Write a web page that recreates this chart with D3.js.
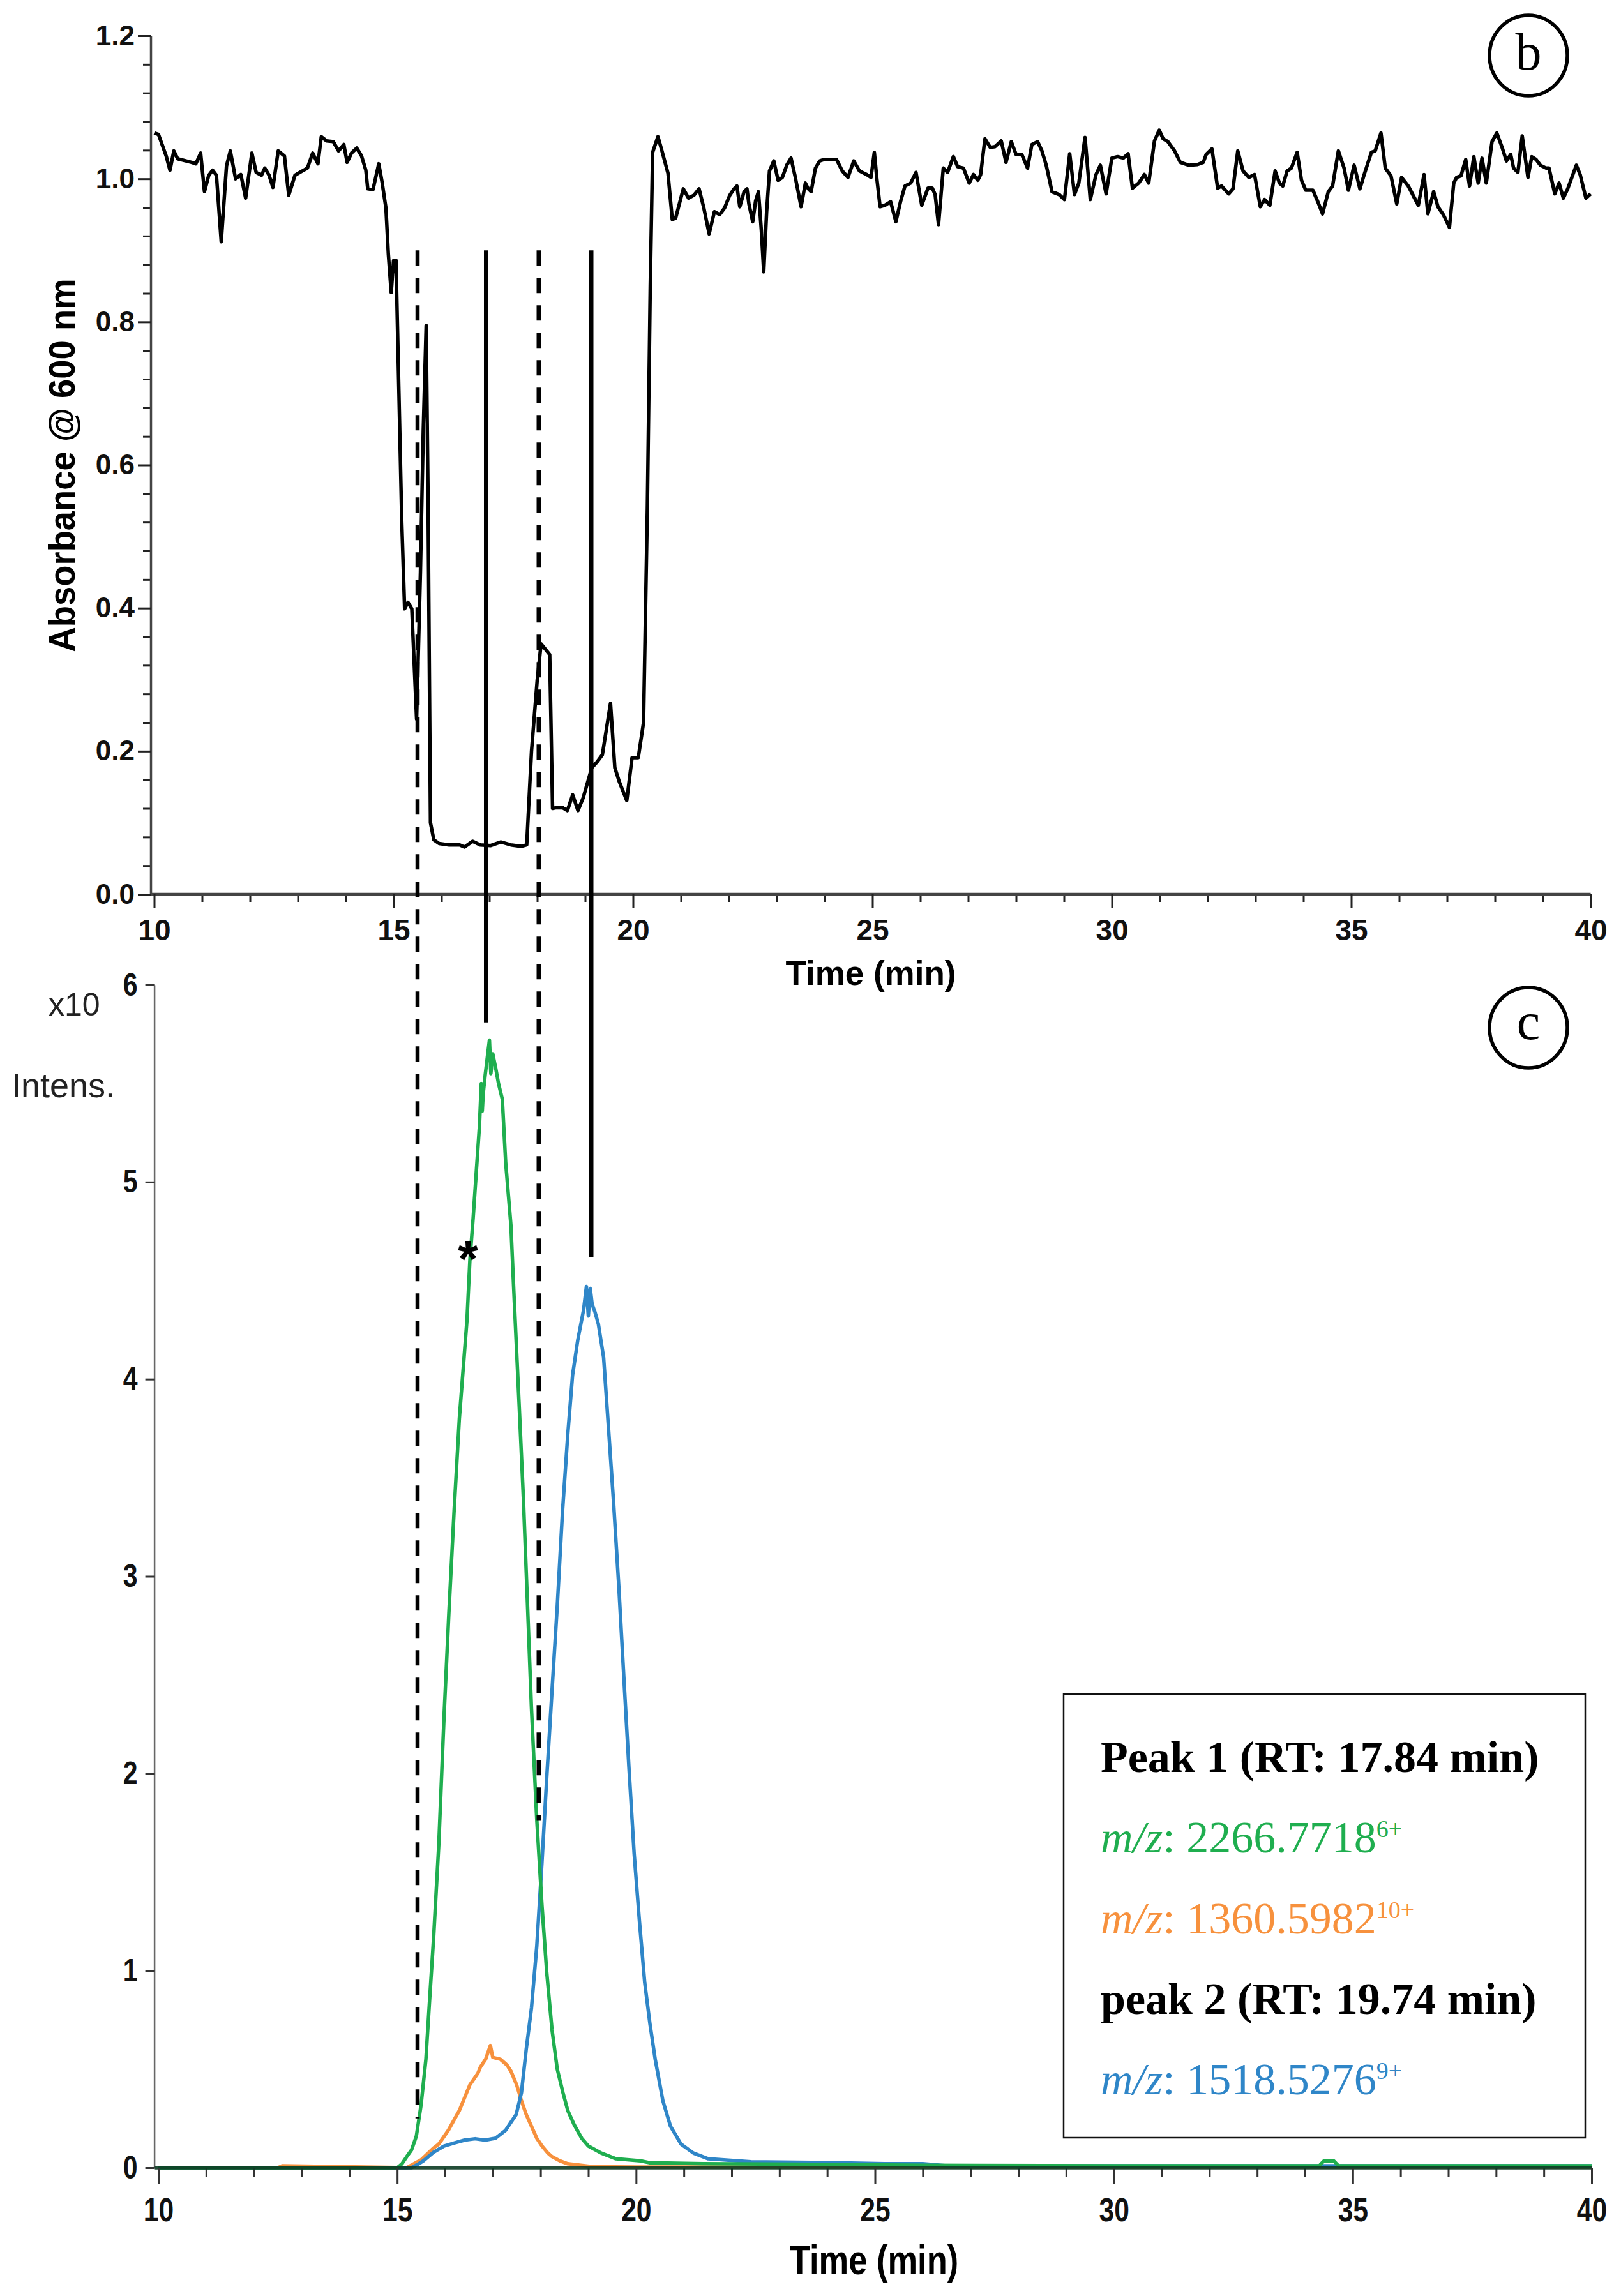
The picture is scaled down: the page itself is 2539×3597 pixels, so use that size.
<!DOCTYPE html>
<html lang="en">
<head>
<meta charset="UTF-8">
<title>Absorbance and ion chromatograms</title>
<script src="https://cdn.jsdelivr.net/npm/d3@7/dist/d3.min.js"></script>
<style>
  body { margin: 0; background: #fff; }
  svg { display: block; }
</style>
</head>
<body>
<div id="chart"></div>
<script>
// panel b: absorbance @ 600 nm vs time (min)
var absTime = [10.00,10.09,10.25,10.33,10.41,10.49,10.78,10.87,10.97,11.05,11.14,11.22,11.30,11.40,11.51,11.59,11.70,11.81,11.91,12.04,
  12.13,12.24,12.31,12.40,12.48,12.59,12.72,12.81,12.94,13.04,13.20,13.31,13.42,13.49,13.60,13.74,13.85,13.96,14.03,14.12,
  14.23,14.33,14.42,14.46,14.57,14.69,14.76,14.84,14.89,14.95,15.00,15.05,15.11,15.17,15.23,15.30,15.38,15.48,15.56,15.62,
  15.68,15.72,15.77,15.84,15.95,16.16,16.38,16.48,16.65,16.81,17.02,17.24,17.45,17.67,17.78,17.88,18.00,18.08,18.14,18.26,
  18.32,18.40,18.53,18.63,18.74,18.85,18.96,19.14,19.25,19.36,19.53,19.62,19.71,19.87,19.98,20.11,20.22,20.30,20.36,20.41,
  20.52,20.60,20.73,20.82,20.89,21.05,21.16,21.27,21.38,21.48,21.59,21.70,21.81,21.91,22.02,
  22.11,22.17,22.23,22.32,22.38,22.42,22.50,22.56,22.62,22.68,22.73,22.79,22.85,22.94,23.03,23.12,23.21,23.30,23.39,23.51,
  23.60,23.66,23.72,23.81,23.90,23.99,24.10,24.25,24.37,24.49,24.61,24.73,24.88,24.97,25.04,25.09,25.16,25.26,25.38,25.49,
  25.59,25.68,25.80,25.91,26.03,26.16,26.25,26.31,26.38,26.48,26.57,26.69,26.78,26.90,27.02,27.11,27.20,27.26,27.35,27.46,
  27.56,27.69,27.79,27.90,28.00,28.12,28.24,28.33,28.45,28.54,28.63,28.75,28.90,29.01,29.12,29.22,29.31,29.44,29.55,29.67,
  29.76,29.88,30.00,30.12,30.24,30.34,30.43,30.56,30.68,30.77,30.89,30.99,31.07,31.17,
  31.31,31.43,31.61,31.79,31.91,31.97,32.09,32.21,32.29,32.44,32.53,32.63,32.74,32.86,32.98,33.10,33.19,33.30,33.41,33.50,
  33.57,33.66,33.75,33.87,33.96,34.05,34.20,34.32,34.40,34.52,34.61,34.73,34.85,34.94,35.06,35.18,35.27,35.42,35.50,35.62,
  35.71,35.83,35.95,36.05,36.19,36.40,36.52,36.60,36.72,36.81,36.93,37.05,37.14,37.20,37.29,37.39,37.47,37.56,37.65,37.73,
  37.82,37.94,38.04,38.15,38.24,38.33,38.39,38.48,38.57,38.69,38.77,38.86,38.95,39.07,39.13,39.25,39.34,39.43,39.52,39.70,
  39.78,39.90,40.00];
var absValue = [1.064,1.062,1.032,1.012,1.039,1.028,1.023,1.021,1.036,0.982,1.005,1.012,1.005,0.912,1.018,1.039,1.000,1.006,0.973,1.036,
  1.009,1.005,1.015,1.005,0.988,1.039,1.032,0.977,1.005,1.009,1.015,1.036,1.021,1.059,1.053,1.052,1.039,1.048,1.023,1.036,
  1.043,1.032,1.012,0.986,0.985,1.021,0.995,0.959,0.895,0.841,0.886,0.886,0.704,0.522,0.399,0.408,0.399,0.245,0.450,0.650,
  0.795,0.550,0.100,0.076,0.071,0.069,0.069,0.066,0.074,0.069,0.068,0.073,0.069,0.067,0.069,0.200,0.300,0.350,0.345,0.335,
  0.120,0.121,0.121,0.117,0.139,0.117,0.135,0.177,0.185,0.195,0.267,0.177,0.158,0.131,0.191,0.191,0.240,0.540,0.850,1.037,
  1.059,1.040,1.008,0.943,0.945,0.986,0.973,0.977,0.986,0.959,0.923,0.954,0.950,0.959,0.977,
  0.986,0.990,0.961,0.982,0.986,0.965,0.940,0.969,0.982,0.928,0.870,0.953,1.011,1.025,0.998,1.002,1.019,1.029,1.002,0.961,
  0.994,0.986,0.982,1.015,1.025,1.027,1.027,1.027,1.011,1.002,1.025,1.011,1.006,1.002,1.037,1.002,0.961,0.963,0.968,0.940,
  0.969,0.990,0.994,1.009,0.963,0.987,0.987,0.978,0.936,1.015,1.009,1.031,1.017,1.015,0.994,1.006,0.998,1.006,1.056,1.044,
  1.045,1.053,1.023,1.052,1.034,1.034,1.015,1.048,1.052,1.039,1.019,0.982,0.978,0.971,1.035,0.978,0.994,1.058,0.971,1.006,
  1.019,0.979,1.029,1.031,1.029,1.035,0.987,0.994,1.006,0.994,1.053,1.068,1.056,1.052,
  1.039,1.023,1.019,1.020,1.023,1.034,1.042,0.987,0.990,0.979,0.986,1.039,1.011,1.002,1.006,0.961,0.971,0.963,1.011,0.994,
  0.990,1.011,1.015,1.037,0.998,0.984,0.984,0.965,0.951,0.982,0.990,1.039,1.015,0.984,1.019,0.986,1.006,1.037,1.039,1.064,
  1.015,1.004,0.965,1.002,0.990,0.963,1.006,0.951,0.982,0.961,0.949,0.932,0.994,1.002,1.004,1.027,0.990,1.031,0.994,1.029,
  0.994,1.052,1.064,1.044,1.025,1.034,1.015,1.009,1.060,1.002,1.031,1.027,1.019,1.015,1.015,0.979,0.994,0.973,0.986,1.019,
  1.006,0.973,0.979];

// panel c: extracted ion chromatograms, intensity x10^6
var greenTime = [10.0,14.0,15.0,15.1,15.2,15.3,15.4,15.5,15.6,15.68,15.76,15.87,15.98,16.08,16.19,16.30,16.37,16.46,16.52,16.59,
  16.66,16.72,16.76,16.78,16.80,16.84,16.88,16.93,16.96,17.00,17.06,17.12,17.20,17.27,17.38,17.44,17.55,17.64,17.72,17.81,
  17.92,18.03,18.13,18.24,18.35,18.47,18.57,18.70,18.86,19.00,19.27,19.58,20.09,20.29,21.4,23.24,26.0,30.0,34.3,34.4,
  34.6,34.7,40.0];
var greenValue = [0,0,0,0.02,0.056,0.09,0.16,0.32,0.55,0.86,1.16,1.64,2.29,2.81,3.33,3.80,4.02,4.30,4.60,4.82,
  5.07,5.28,5.50,5.36,5.45,5.54,5.62,5.72,5.55,5.65,5.58,5.50,5.42,5.10,4.78,4.45,3.88,3.40,2.90,2.33,
  1.77,1.33,0.99,0.70,0.50,0.38,0.29,0.22,0.15,0.11,0.074,0.045,0.035,0.025,0.02,0.018,0.012,0.01,0.01,0.035,
  0.035,0.01,0.01];

var orangeTime = [10.0,12.5,12.6,15.2,15.5,15.76,15.87,16.07,16.30,16.52,16.69,16.74,16.85,16.95,17.00,17.16,17.30,17.38,17.50,17.60,
  17.70,17.81,17.92,18.03,18.15,18.24,18.40,18.57,19.1,20.0,40.0];
var orangeValue = [0,0,0.01,0,0.04,0.10,0.12,0.19,0.29,0.42,0.48,0.51,0.55,0.62,0.56,0.55,0.52,0.49,0.42,0.34,
  0.27,0.21,0.15,0.11,0.075,0.056,0.035,0.02,0.005,0.003,0.003];

var blueTime = [10.0,15.3,15.45,15.55,15.76,15.98,16.19,16.41,16.63,16.84,17.06,17.27,17.49,17.60,17.70,17.81,17.92,18.03,18.13,18.24,
  18.35,18.46,18.57,18.67,18.78,18.90,18.96,19.00,19.04,19.08,19.14,19.21,19.32,19.42,19.53,19.64,19.75,19.85,19.96,20.07,
  20.18,20.29,20.40,20.56,20.72,20.94,21.2,21.51,22.4,24.15,25.2,26.0,26.5,40.0];
var blueValue = [0,0,0.02,0.035,0.078,0.11,0.125,0.14,0.147,0.14,0.15,0.19,0.27,0.38,0.60,0.81,1.12,1.55,1.98,2.42,
  2.85,3.33,3.72,4.02,4.20,4.35,4.47,4.32,4.46,4.38,4.34,4.28,4.11,3.76,3.37,2.94,2.46,2.03,1.59,1.25,
  0.94,0.73,0.55,0.34,0.21,0.12,0.074,0.045,0.03,0.025,0.02,0.02,0.01,0.01];

var timeMajor = [10, 15, 20, 25, 30, 35, 40];
var absMajor = [0, 0.2, 0.4, 0.6, 0.8, 1.0, 1.2];
var intMajor = [0, 1, 2, 3, 4, 5, 6];

// guide lines linking both panels (time on panel b axis)
var markTime = [15.50, 16.93, 18.03, 19.13];
var markDashed = [true, false, true, false];
var markEnd = [0.25, 5.81, 1.76, 4.62];   // intensity where each line stops
var markStart = 0.9;                      // absorbance where each line starts

var legendText = ["Peak 1 (RT: 17.84 min)", "2266.7718", "1360.5982", "peak 2 (RT: 19.74 min)", "1518.5276"];
var legendCharge = ["", "6+", "10+", "", "9+"];
var legendIsMz = [false, true, true, false, true];

var green = "#1fae4f", orange = "#f7913d", blue = "#2f86c8";
var legendColor = ["#000", green, orange, "#000", blue];

var W = 2539, H = 3597;
var svg = d3.select("#chart").append("svg")
    .attr("width", W).attr("height", H)
    .style("background", "#fff");

var sans = "'Liberation Sans', Arial, sans-serif";
var serif = "'Liberation Serif', 'Times New Roman', serif";
var narrow = 0.82;

// ---------- panel b ----------
var xAbs = d3.scaleLinear().domain([10, 40]).range([241.5, 2491.5]);
var yAbs = d3.scaleLinear().domain([0, 1.2]).range([1401, 56]);
var axisXb = 236;

var gxMinor = svg.append("g").attr("transform", "translate(0," + yAbs(0) + ")")
    .call(d3.axisBottom(xAbs).tickValues(d3.range(10, 41).filter(function(d) { return d % 5; }))
        .tickSize(12).tickFormat(""));
gxMinor.select(".domain").remove();

var gxb = svg.append("g").attr("transform", "translate(0," + yAbs(0) + ")")
    .call(d3.axisBottom(xAbs).tickValues(timeMajor).tickSize(22).tickSizeOuter(0).tickFormat(d3.format("d")));
gxb.select(".domain").attr("d", "M" + axisXb + ",0H" + xAbs(40)).attr("stroke", "#444").attr("stroke-width", 4.5);
gxb.selectAll("text").attr("y", 72).attr("dy", 0)
    .style("font-family", sans).style("font-weight", "bold").style("font-size", "46px").attr("fill", "#111");

var gyMinor = svg.append("g").attr("transform", "translate(" + axisXb + ",0)")
    .call(d3.axisLeft(yAbs).tickValues(d3.range(0, 1.2001, 0.04).filter(function(d) {
        return Math.abs(d * 5 - Math.round(d * 5)) > 1e-6; })).tickSize(12).tickFormat(""));
gyMinor.select(".domain").remove();

var gyb = svg.append("g").attr("transform", "translate(" + axisXb + ",0)")
    .call(d3.axisLeft(yAbs).tickValues(absMajor).tickSize(20).tickSizeOuter(0).tickFormat(d3.format(".1f")));
gyb.select(".domain").attr("stroke", "#444").attr("stroke-width", 3.5);
gyb.selectAll("text").attr("x", -25)
    .style("font-family", sans).style("font-weight", "bold").style("font-size", "44px").attr("fill", "#111");

svg.selectAll(".tick line").attr("stroke", "#222").attr("stroke-width", 3);

svg.append("text").attr("x", 1364).attr("y", 1543).attr("text-anchor", "middle")
    .style("font-family", sans).style("font-weight", "bold").style("font-size", "53px")
    .text("Time (min)");

svg.append("text").attr("transform", "translate(117,729) rotate(-90)").attr("text-anchor", "middle")
    .attr("textLength", 585).attr("lengthAdjust", "spacingAndGlyphs")
    .style("font-family", sans).style("font-weight", "bold").style("font-size", "58px")
    .text("Absorbance @ 600 nm");

var absLine = d3.line().x(function(d) { return xAbs(d[0]); }).y(function(d) { return yAbs(d[1]); });
svg.append("path").datum(d3.zip(absTime, absValue))
    .attr("d", absLine).attr("fill", "none").attr("stroke", "#000")
    .attr("stroke-width", 5.5).attr("stroke-linejoin", "round");

// ---------- panel c ----------
var xInt = d3.scaleLinear().domain([10, 40]).range([248, 2493]);
var yInt = d3.scaleLinear().domain([0, 6]).range([3396, 1543]);
var axisXc = 241.6;

var gyc = svg.append("g").attr("transform", "translate(" + axisXc + ",0)")
    .call(d3.axisLeft(yInt).tickValues(intMajor).tickSize(14).tickSizeOuter(0).tickFormat(d3.format("d")));
gyc.select(".domain").attr("stroke", "#666").attr("stroke-width", 2.5);
gyc.selectAll(".tick line").attr("stroke", "#333").attr("stroke-width", 3);
gyc.selectAll("text").attr("x", -26 / narrow).attr("transform", "scale(" + narrow + ",1)")
    .style("font-family", sans).style("font-weight", "bold").style("font-size", "50px").attr("fill", "#111");

var ion = d3.line().x(function(d) { return xInt(d[0]); }).y(function(d) { return yInt(d[1]); });
[[orangeTime, orangeValue, orange], [blueTime, blueValue, blue], [greenTime, greenValue, green]].forEach(function(s) {
    svg.append("path").datum(d3.zip(s[0], s[1]))
        .attr("d", ion).attr("fill", "none").attr("stroke", s[2])
        .attr("stroke-width", 5.5).attr("stroke-linejoin", "round");
});

var gxcMinor = svg.append("g").attr("transform", "translate(0," + yInt(0) + ")")
    .call(d3.axisBottom(xInt).tickValues(d3.range(10, 41).filter(function(d) { return d % 5; }))
        .tickSize(15).tickFormat(""));
gxcMinor.select(".domain").remove();
gxcMinor.selectAll(".tick line").attr("stroke", "#333").attr("stroke-width", 3);

var gxc = svg.append("g").attr("transform", "translate(0," + yInt(0) + ")")
    .call(d3.axisBottom(xInt).tickValues(timeMajor).tickSize(26).tickSizeOuter(0).tickFormat(d3.format("d")));
gxc.select(".domain").attr("d", "M" + axisXc + ",0H" + xInt(40))
    .attr("stroke", "#0c3b24").attr("stroke-width", 5.5).attr("stroke-opacity", 0.9);
gxc.selectAll(".tick line").attr("stroke", "#333").attr("stroke-width", 3);
gxc.selectAll("text").attr("y", 84).attr("dy", 0).attr("transform", "scale(" + narrow + ",1)")
    .style("font-family", sans).style("font-weight", "bold").style("font-size", "52px").attr("fill", "#111");

svg.append("text").attr("transform", "translate(1369,3563) scale(" + narrow + ",1)").attr("text-anchor", "middle")
    .style("font-family", sans).style("font-weight", "bold").style("font-size", "64px")
    .text("Time (min)");

svg.append("text").attr("x", 76).attr("y", 1591)
    .style("font-family", sans).style("font-size", "50px").attr("fill", "#222").text("x10");
svg.append("text").attr("x", 18).attr("y", 1719)
    .style("font-family", sans).style("font-size", "54px").attr("fill", "#222").text("Intens.");

// asterisk near peak 1
svg.append("text").attr("x", xInt(16.48)).attr("y", yInt(4.67) + 46).attr("text-anchor", "middle")
    .style("font-family", sans).style("font-weight", "bold").style("font-size", "82px").text("*");

// guide lines
markTime.forEach(function(t, i) {
    svg.append("line")
        .attr("x1", xAbs(t)).attr("x2", xAbs(t))
        .attr("y1", yAbs(markStart)).attr("y2", yInt(markEnd[i]))
        .attr("stroke", "#000").attr("stroke-width", 6.5)
        .attr("stroke-dasharray", markDashed[i] ? "24,19" : null);
});

// panel letters
[["b", 2394, 87], ["c", 2394, 1610]].forEach(function(p) {
    svg.append("ellipse").attr("cx", p[1]).attr("cy", p[2]).attr("rx", 61).attr("ry", 63)
        .attr("fill", "none").attr("stroke", "#000").attr("stroke-width", 5.5);
    svg.append("text").attr("x", p[1]).attr("y", p[2] + (p[0] === "b" ? 22 : 18)).attr("text-anchor", "middle")
        .style("font-family", serif).style("font-size", "82px").text(p[0]);
});

// legend box
svg.append("rect").attr("x", 1666).attr("y", 2654).attr("width", 817).attr("height", 695)
    .attr("fill", "#fff").attr("stroke", "#111").attr("stroke-width", 2.5);

var lg = svg.append("g").attr("transform", "translate(1724,0)");
legendText.forEach(function(txt, i) {
    var t = lg.append("text").attr("x", 0).attr("y", 2776 + i * 126.3)
        .style("font-family", serif).style("font-size", "70px").attr("fill", legendColor[i]);
    if (legendIsMz[i]) {
        t.append("tspan").style("font-style", "italic").text("m/z");
        t.append("tspan").text(": " + txt);
        t.append("tspan").attr("dy", -24).style("font-size", "38px").text(legendCharge[i]);
    } else {
        t.style("font-weight", "bold").text(txt);
    }
});
</script>
</body>
</html>
